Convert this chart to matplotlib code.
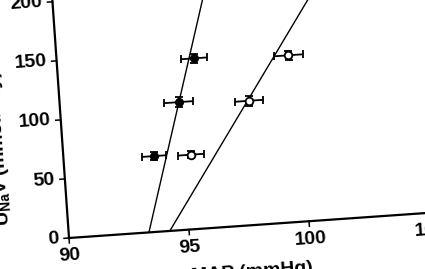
import numpy as np
import matplotlib
matplotlib.use('Agg')
import matplotlib.pyplot as plt
from matplotlib.transforms import Affine2D

plt.rcParams['font.family'] = ['Liberation Sans', 'DejaVu Sans']
plt.rcParams['font.weight'] = 'bold'
plt.rcParams['mathtext.fontset'] = 'custom'
plt.rcParams['mathtext.rm'] = 'Liberation Sans:bold'
plt.rcParams['mathtext.bf'] = 'Liberation Sans:bold'

# data
filled_map = [93.77, 94.95, 95.71]
filled_unav = [64, 108, 144]
filled_map_err = [0.50, 0.60, 0.55]
filled_unav_err = [3.5, 4.0, 4.0]

open_map = [95.29, 97.86, 99.62]
open_unav = [63, 105, 141]
open_map_err = [0.55, 0.60, 0.60]
open_unav_err = [3.0, 4.0, 4.0]

# regression lines: x intercept (mmHg) and slope
filled_fit = (93.33, 66.6)
open_fit = (94.20, 29.2)

xticks = [90, 95, 100, 105]
yticks = [0, 50, 100, 150, 200]

W, H, dpi = 425, 269, 100
fig = plt.figure(figsize=(W / dpi, H / dpi), dpi=dpi)
ax = fig.add_axes([0, 0, 1, 1])
ax.set_axis_off()
# px per unit: 24.06 in x, 1.184 in y, origin at pixel (69, 31 from bottom)
sx, sy = 24.06, 1.184
x0 = 90 - 69 / sx
y0 = 0 - 31 / sy
ax.set_xlim(x0, x0 + W / sx)
ax.set_ylim(y0, y0 + H / sy)
ax.set_autoscale_on(False)

# the scanned figure is tilted about 4 degrees
ang = 4.0
ox, oy = ax.transData.transform((90, 0))
rot = ax.transData + Affine2D().rotate_deg_around(ox, oy, ang)

lw_axis = 1.6
ax.plot([90, 107], [0, 0], color='black', lw=lw_axis, transform=rot, solid_capstyle='projecting')
ax.plot([90, 90], [0, 230], color='black', lw=lw_axis, transform=rot, solid_capstyle='projecting')

tick_x = 5 / sx
tick_y = 5 / sy
for t in xticks:
    ax.plot([t, t], [0, -tick_y], color='black', lw=1.1, transform=rot)
    ax.text(t, -18 / sy, str(t), transform=rot, rotation=ang, rotation_mode='anchor',
            ha='center', va='center', fontsize=14, fontweight='bold')
for t in yticks:
    ax.plot([90, 90 - tick_x], [t, t], color='black', lw=1.1, transform=rot)
    ax.text(90 - 10 / sx, t, str(t), transform=rot, rotation=ang, rotation_mode='anchor',
            ha='right', va='center', fontsize=14, fontweight='bold')

ax.text(97.5, -38 / sy, 'MAP (mmHg)', transform=rot, rotation=ang, rotation_mode='anchor',
        ha='center', va='top', fontsize=14, fontweight='bold')
ax.text(90 - 59 / sx, 14, r'U$_{\mathrm{Na}}$V (mmol/day)', transform=rot,
        rotation=90 + ang, rotation_mode='anchor', ha='left', va='baseline',
        fontsize=14, fontweight='bold')

# regression lines
for xi, k in [filled_fit, open_fit]:
    xs = np.array([xi, xi + 230 / k])
    ax.plot(xs, k * (xs - xi), color='black', lw=1.0, transform=rot, zorder=2)

ax.errorbar(filled_map, filled_unav, xerr=filled_map_err, yerr=filled_unav_err,
            fmt='o', ms=5.5, mfc='black', mec='black', ecolor='black',
            elinewidth=1.3, capsize=3, capthick=1.3, transform=rot, zorder=3)
ax.errorbar(open_map, open_unav, xerr=open_map_err, yerr=open_unav_err,
            fmt='o', ms=5.5, mfc='white', mec='black', mew=1.3, ecolor='black',
            elinewidth=1.3, capsize=3, capthick=1.3, transform=rot, zorder=3)

fig.savefig('out.png', dpi=dpi, facecolor='white')
